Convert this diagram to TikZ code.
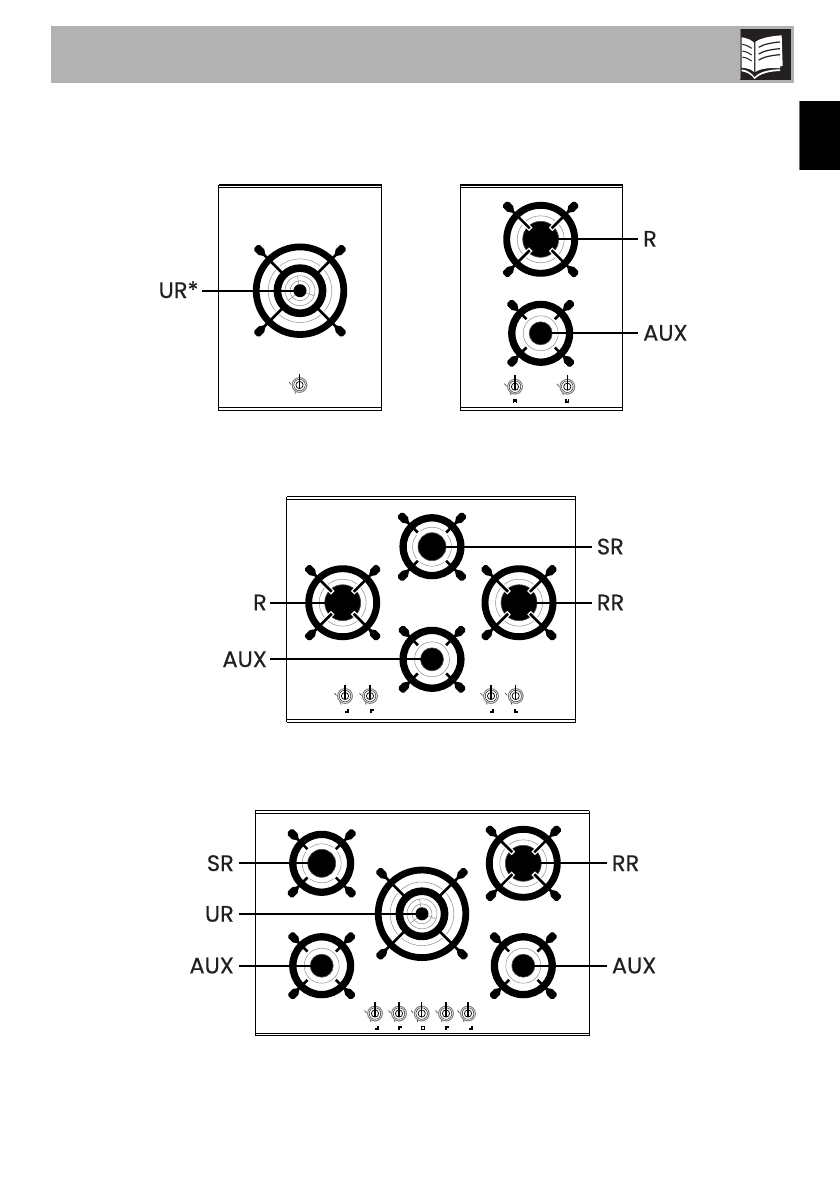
\documentclass[tikz,border=0pt]{standalone}
\usepackage{fontspec}
\newfontfamily\labfont{Poppins}[FakeBold=0.35]
\definecolor{ink}{HTML}{231F20}
\tikzset{
  lab/.style={font=\labfont\fontsize{22.5}{22.5}\selectfont,text=ink,inner xsep=3pt,inner ysep=0pt},
  labwide/.style={lab,inner xsep=5pt},
  conn/.style={draw=black,line width=1.8pt},
  thinc/.style={draw=black!45,line width=0.5pt},
}
% centre, ring mid, ring width, thin r, core r, spoke inner, spoke tip
\newcommand{\burnerbase}[7]{%
  \draw[thinc] (#1) circle[radius=#4pt];
  \fill[black] (#1) circle[radius=#5pt];
  \draw[black!70,line width=0.6pt] (#1) circle[radius=#5pt];
  \foreach \a in {45,135,225,315}{
    \begin{scope}[shift={(#1)},rotate=\a]
      \pgfmathsetmacro{\ri}{#6}\pgfmathsetmacro{\rt}{#7}
      \draw[white,line width=5pt] (\ri-1.5,0) -- (#2,0);
      \draw[black,line width=2.6pt] (\ri,0) -- (\rt-6,0);
      \fill[black] (\rt-12,-1.3) -- (\rt-8,-4) -- (\rt-2,-4) -- (\rt,-2) -- (\rt,2) -- (\rt-2,4) -- (\rt-8,4) -- (\rt-12,1.3) -- cycle;
    \end{scope}
  }
  \draw[black,line width=#3pt] (#1) circle[radius=#2pt];
}
\newcommand{\burnerUR}[1]{%
  \draw[thinc] (#1) circle[radius=31.8pt];
  \draw[thinc] (#1) circle[radius=15pt];
  \draw[thinc] (#1) circle[radius=10pt];
  \begin{scope}[shift={(#1)}]
    \foreach \a in {20,140,260}{\draw[thinc] (\a:6) -- (\a:15);}
  \end{scope}
  \fill[black] (#1) circle[radius=6.5pt];
  \foreach \a in {45,135,225,315}{
    \begin{scope}[shift={(#1)},rotate=\a]
      \draw[white,line width=5pt] (26,0) -- (44,0);
      \draw[black,line width=2.6pt] (24,0) -- (57,0);
      \fill[black] (50.5,-1.3) -- (54.5,-4) -- (60.5,-4) -- (62.5,-2) -- (62.5,2) -- (60.5,4) -- (54.5,4) -- (50.5,1.3) -- cycle;
    \end{scope}
  }
  \draw[black,line width=6.8pt] (#1) circle[radius=43.8pt];
  \draw[black,line width=7.6pt] (#1) circle[radius=22.6pt];
}
\newcommand{\burnerR}[1]{\burnerbase{#1}{34}{6.9}{23.5}{18}{15.5}{51}}
\newcommand{\burnerSR}[1]{\burnerbase{#1}{28.9}{7.3}{19.5}{14}{20}{46}}
\newcommand{\burnerAUX}[1]{\burnerbase{#1}{28.9}{7.3}{17.5}{11.5}{20}{45}}
\newcommand{\knob}[1]{%
  \begin{scope}[shift={(#1)}]
    \draw[black!50,line width=1pt] (0,0) circle[radius=7.4pt];
    \draw[black!85,line width=0.5pt] (0,0) circle[radius=5.8pt];
    \draw[black,line width=0.7pt] (0,0) circle[radius=3.6pt];
    \draw[black,line width=1.4pt] (0,-11.5) -- (0,3);
    \draw[black!70,line width=0.7pt] (-10.5,-3) -- (-8.5,-0.5);
    \draw[black!70,line width=0.7pt] (-4.5,6.5) -- (-4,8.5);
  \end{scope}
}
\newcommand{\tagmark}[2]{%
  \begin{scope}[shift={(#1)}]
    \fill[black] (-2,-2) rectangle (2,2);
    \fill[white] #2;
  \end{scope}
}
\newcommand{\panel}[4]{%
  \draw[black,line width=1.6pt] (#1,#2) -- (#3,#2);
  \draw[black,line width=0.9pt] (#1,#2+2.6) -- (#3,#2+2.6);
  \draw[black,line width=0.9pt] (#1,#4-2.6) -- (#3,#4-2.6);
  \draw[black,line width=1.4pt] (#1,#4) -- (#3,#4);
  \draw[black,line width=0.9pt] (#1,#2) -- (#1,#4);
  \draw[black,line width=0.9pt] (#3,#2) -- (#3,#4);
}
\begin{document}
\begin{tikzpicture}[x=1pt,y=-1pt]
\useasboundingbox (0,0) rectangle (840,1191);
\fill[black!30] (51,26) rectangle (794,82.7);
\fill[ink] (740,29) rectangle (791,80);
\begin{scope}[shift={(700,0)},x=0.33333pt,y=-0.33333pt]
  \fill[black!55] (121,88) rectangle (124,238);
  \fill[white] (125,112) .. controls (140,114) and (155,120) .. (162,128) -- (162,216) .. controls (155,208) and (140,204) .. (125,203) -- cycle;
  \fill[white] (166,126) .. controls (180,114) and (215,108) .. (245,106) -- (248,198) -- (240,199) -- (240,205) .. controls (210,202) and (180,206) .. (166,216) -- cycle;
  \fill[white] (125,208) .. controls (140,210) and (155,218) .. (164,232) .. controls (175,216) and (210,208) .. (240,208) -- (240,213) .. controls (210,214) and (180,220) .. (164,237) .. controls (152,222) and (140,216) .. (125,214) -- cycle;
  \draw[ink,line width=1pt] (127,133) .. controls (138,135) and (148,139) .. (155,145);
  \draw[ink,line width=1pt] (127,153) .. controls (138,155) and (148,159) .. (155,165);
  \draw[ink,line width=1pt] (127,171) .. controls (138,173) and (148,177) .. (155,183);
  \draw[ink,line width=1.2pt] (176,142) .. controls (190,133) and (215,128) .. (240,126);
  \draw[ink,line width=1.2pt] (176,162) .. controls (190,153) and (215,148) .. (240,146);
  \draw[ink,line width=1.2pt] (176,180) .. controls (190,171) and (215,166) .. (240,164);
\end{scope}
\fill[black!55] (799.3,101) rectangle (800.3,170);
\fill[black] (800,101) rectangle (840,170);

% panel 1
\panel{218.5}{185}{381.8}{410.5}
\burnerUR{300,290.7}
\knob{299.5,385}
\coordinate (b1) at (300,290.7);
\node[lab,anchor=base east] (l1) at (201.7,298) {UR*};
\draw[conn] (l1.east |- b1) -- (b1);

% panel 2
\panel{460}{185}{622.8}{410.5}
\burnerR{540.7,239.3}
\burnerAUX{540.7,333.3}
\knob{515,386.7}
\knob{567.3,386.7}
\tagmark{515,401}{(-0.6,0.5) rectangle (0.6,2.1)}
\tagmark{567.3,401}{(-0.8,-2.1) rectangle (0.8,0)}
\coordinate (b2) at (540.7,239.3);
\coordinate (b3) at (540.7,333.3);
\node[labwide,anchor=base west] (l2) at (638,246.7) {R};
\node[labwide,anchor=base west] (l3) at (638,340.7) {AUX};
\draw[conn] (b2) -- (l2.west |- b2);
\draw[conn] (b3) -- (l3.west |- b3);

% panel 3
\panel{286.5}{496.5}{575.5}{722.4}
\burnerR{342.7,602.7}
\burnerSR{432,546.7}
\burnerAUX{432,659.3}
\burnerR{519,602.7}
\knob{345,696}
\knob{370,696}
\knob{491,696}
\knob{515.7,696}
\tagmark{347,711}{(-2.1,-2.1) rectangle (0,0)}
\tagmark{372,711}{(0,0.2) rectangle (2.1,2.1)}
\tagmark{492,711}{(-2.1,-2.1) rectangle (-0.2,-0.2)}
\tagmark{516,711}{(0.2,-2.1) rectangle (2.1,-0.5)}
\coordinate (b4) at (342.7,602.7);
\coordinate (b5) at (432,659.3);
\coordinate (b6) at (432,546.7);
\coordinate (b7) at (519,602.7);
\node[lab,anchor=base east] (l4) at (270,610.4) {R};
\node[lab,anchor=base east] (l5) at (270,667) {AUX};
\node[labwide,anchor=base west] (l6) at (591.7,554.4) {SR};
\node[labwide,anchor=base west] (l7) at (591.7,610.4) {RR};
\draw[conn] (l4.east |- b4) -- (b4);
\draw[conn] (l5.east |- b5) -- (b5);
\draw[conn] (b6) -- (l6.west |- b6);
\draw[conn] (b7) -- (l7.west |- b7);

% panel 4
\panel{255.3}{810.5}{589.3}{1035.7}
\burnerSR{321.7,863.3}
\burnerAUX{321.7,965.7}
\burnerUR{422,913.8}
\burnerR{523.3,863.3}
\burnerAUX{523.3,965.7}
\knob{375,1013.5}
\knob{399,1013.5}
\knob{421.7,1013.5}
\knob{446,1013.5}
\knob{468,1013.5}
\tagmark{377,1028}{(-2.1,-2.1) rectangle (0,0)}
\tagmark{400,1028}{(0,0.2) rectangle (2.1,2.1)}
\tagmark{423,1028}{(-0.8,-0.8) rectangle (0.8,0.8)}
\tagmark{447,1028}{(0.2,-0.2) rectangle (2.1,2.1)}
\tagmark{471,1028}{(-2.1,-2.1) rectangle (-0.2,-0.2)}
\coordinate (b8) at (321.7,863.3);
\coordinate (b9) at (422,914);
\coordinate (b10) at (321.7,965.7);
\coordinate (b11) at (523.3,863.3);
\coordinate (b12) at (523.3,965.7);
\node[labwide,anchor=base east] (l8) at (239,871) {SR};
\node[labwide,anchor=base east] (l9) at (239,921.7) {UR};
\node[labwide,anchor=base east] (l10) at (239,973.4) {AUX};
\node[labwide,anchor=base west] (l11) at (606.7,871) {RR};
\node[labwide,anchor=base west] (l12) at (606.7,973.4) {AUX};
\draw[conn] (l8.east |- b8) -- (b8);
\draw[conn] (l9.east |- b9) -- (b9);
\draw[conn] (l10.east |- b10) -- (b10);
\draw[conn] (b11) -- (l11.west |- b11);
\draw[conn] (b12) -- (l12.west |- b12);
\end{tikzpicture}
\end{document}
